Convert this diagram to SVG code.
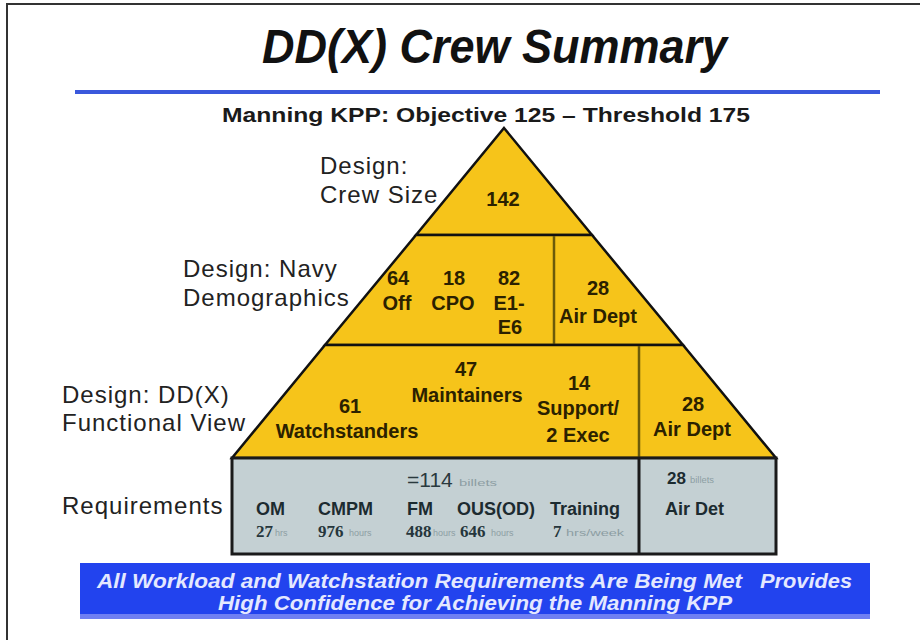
<svg xmlns="http://www.w3.org/2000/svg" width="920" height="640" viewBox="0 0 920 640">
<style>
.lbl{font-family:"Liberation Sans",Arial,sans-serif;font-size:24px;letter-spacing:1px;fill:#222}
.pt{font-family:"Liberation Sans",Arial,sans-serif;font-size:20px;font-weight:bold;fill:#2b2100;text-anchor:middle}
.tier{fill:#f6c41a;stroke:#111;stroke-width:2.5;stroke-linejoin:miter}
.div{stroke:#6b5a0a;stroke-width:2.5}
.rq{font-family:"Liberation Sans",Arial,sans-serif;font-size:18px;font-weight:bold;fill:#1c2b30}
.num{font-family:"Liberation Serif","Times New Roman",serif;font-size:17px;font-weight:bold;fill:#26363c}
.tiny{font-family:"Liberation Sans",Arial,sans-serif;font-size:9px;fill:#8d9ea3}
.ban{font-family:"Liberation Sans",Arial,sans-serif;font-size:20px;font-weight:bold;font-style:italic;fill:#e4e8ff}
</style>
<rect x="0" y="0" width="920" height="640" fill="#fff"/>
<path d="M7 640 V4 H920" fill="none" stroke="#333" stroke-width="2"/>

<g id="title">
<text x="262" y="63" font-family="'Liberation Sans',Arial,sans-serif" font-size="48" font-weight="bold" font-style="italic" fill="#111" textLength="465" lengthAdjust="spacingAndGlyphs">DD(X) Crew Summary</text>
<line x1="75" y1="92" x2="880" y2="92" stroke="#3a58dc" stroke-width="4"/>
<text x="222" y="122" font-family="'Liberation Sans',Arial,sans-serif" font-size="21" font-weight="bold" fill="#1a1a1a" textLength="528" lengthAdjust="spacingAndGlyphs">Manning KPP: Objective 125 – Threshold 175</text>
</g>

<g id="tier-crew-size">
<polygon class="tier" points="504,128 592,235 416,235"/>
<text class="pt" x="503" y="206" font-size="23">142</text>
</g>

<g id="tier-navy-demographics">
<polygon class="tier" points="416,235 592,235 683,345 325,345"/>
<line class="div" x1="554" y1="236" x2="554" y2="344"/>
<text class="pt" x="398" y="285">64</text>
<text class="pt" x="397" y="310">Off</text>
<text class="pt" x="454" y="285">18</text>
<text class="pt" x="453" y="310">CPO</text>
<text class="pt" x="509" y="285">82</text>
<text class="pt" x="509" y="310">E1-</text>
<text class="pt" x="510" y="334">E6</text>
<text class="pt" x="598" y="295">28</text>
<text class="pt" x="598" y="323">Air Dept</text>
</g>

<g id="tier-functional-view">
<polygon class="tier" points="325,345 683,345 776,458 232,458"/>
<line class="div" x1="639" y1="346" x2="639" y2="457"/>
<text class="pt" x="350" y="413">61</text>
<text class="pt" x="347" y="438">Watchstanders</text>
<text class="pt" x="466" y="376">47</text>
<text class="pt" x="467" y="402">Maintainers</text>
<text class="pt" x="579" y="390">14</text>
<text class="pt" x="578" y="415">Support/</text>
<text class="pt" x="578" y="442">2 Exec</text>
<text class="pt" x="693" y="411">28</text>
<text class="pt" x="692" y="436">Air Dept</text>
</g>

<g id="requirements">
<rect x="232" y="458" width="544" height="96" fill="#c4d0d3" stroke="#1a1a1a" stroke-width="3"/>
<line x1="639" y1="458" x2="639" y2="554" stroke="#1a1a1a" stroke-width="3"/>
<text x="407" y="487" font-family="'Liberation Sans',Arial,sans-serif" font-size="21" fill="#2a393e">=114</text>
<text class="tiny" x="459" y="486" textLength="38" lengthAdjust="spacingAndGlyphs">billets</text>
<text class="rq" x="256" y="515">OM</text>
<text class="rq" x="318" y="515">CMPM</text>
<text class="rq" x="407" y="515">FM</text>
<text class="rq" x="457" y="515">OUS(OD)</text>
<text class="rq" x="550" y="515">Training</text>
<text class="num" x="256" y="537">27</text>
<text class="tiny" x="275" y="536">hrs</text>
<text class="num" x="318" y="537">976</text>
<text class="tiny" x="349" y="536">hours</text>
<text class="num" x="406" y="537">488</text>
<text class="tiny" x="433" y="536">hours</text>
<text class="num" x="460" y="537">646</text>
<text class="tiny" x="491" y="536">hours</text>
<text class="num" x="553" y="537">7</text>
<text class="tiny" x="566" y="536" textLength="58" lengthAdjust="spacingAndGlyphs">hrs/week</text>
<text x="667" y="484" font-family="'Liberation Sans',Arial,sans-serif" font-size="17" font-weight="bold" fill="#1c2b30">28</text>
<text class="tiny" x="690" y="483" textLength="24" lengthAdjust="spacingAndGlyphs">billets</text>
<text class="rq" x="665" y="515">Air Det</text>
</g>

<g id="level-labels">
<text class="lbl" x="320" y="174">Design:</text>
<text class="lbl" x="320" y="203">Crew Size</text>
<text class="lbl" x="183" y="277">Design: Navy</text>
<text class="lbl" x="183" y="306">Demographics</text>
<text class="lbl" x="62" y="403">Design: DD(X)</text>
<text class="lbl" x="62" y="431">Functional View</text>
<text class="lbl" x="62" y="514">Requirements</text>
</g>

<g id="banner">
<rect x="80" y="563" width="790" height="56" fill="#2243ee"/>
<rect x="80" y="614" width="790" height="5" fill="#6f7ff2"/>
<text class="ban" x="97" y="588" textLength="645" lengthAdjust="spacingAndGlyphs">All Workload and Watchstation Requirements Are Being Met</text>
<text class="ban" x="760" y="588" textLength="92" lengthAdjust="spacingAndGlyphs">Provides</text>
<text class="ban" x="218" y="610" textLength="514" lengthAdjust="spacingAndGlyphs">High Confidence for Achieving the Manning KPP</text>
</g>
</svg>
